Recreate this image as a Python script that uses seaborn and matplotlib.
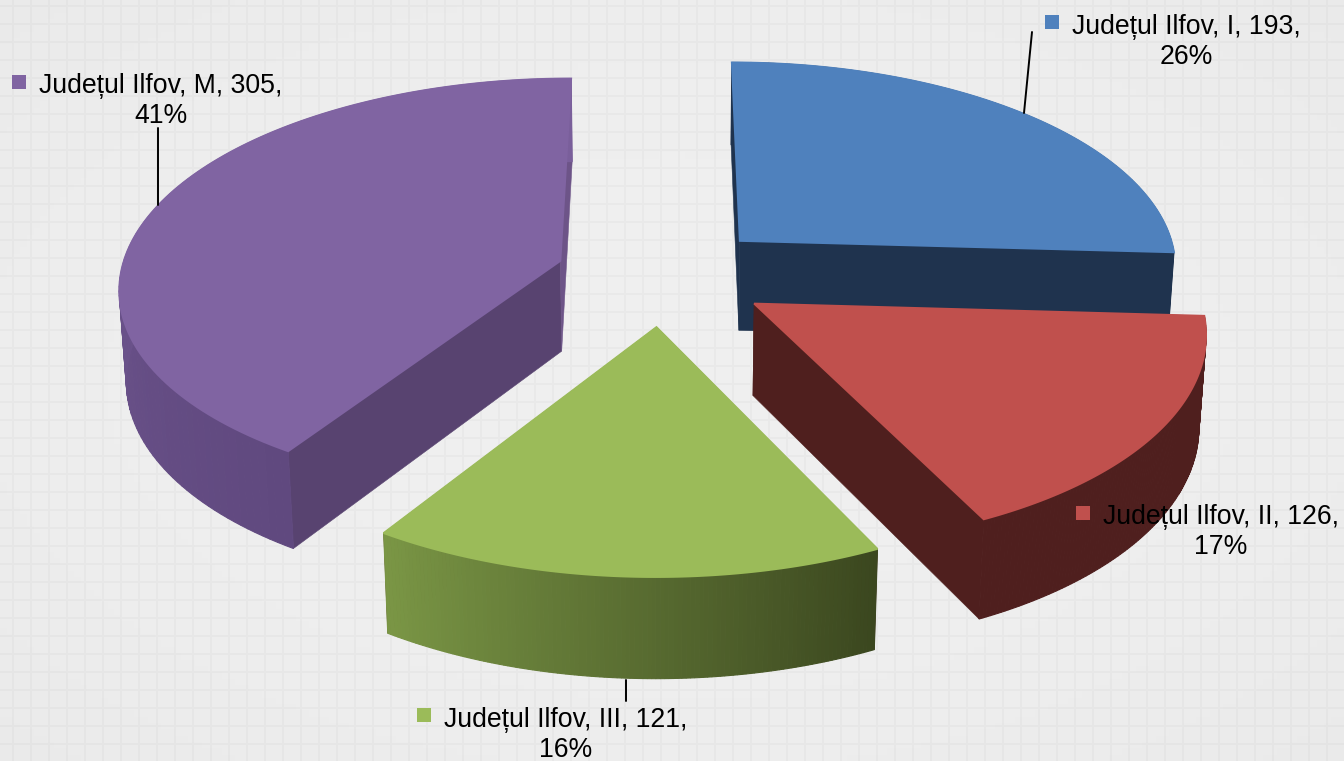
import numpy as np
import matplotlib
matplotlib.use('Agg')
import matplotlib.pyplot as plt
import seaborn as sns

# Data
regions = ['Județul Ilfov, I', 'Județul Ilfov, II', 'Județul Ilfov, III', 'Județul Ilfov, M']
values = [193, 126, 121, 305]
percents = [26, 17, 16, 41]

# top face, cut faces (start, end of the slice) and the rim gradient for every slice
top_colors = ['#4f81bd', '#c0504d', '#9bbb59', '#8064a2']
cut_start = ['#1f334e', '#4f1f1e', '#4f1f1e', '#584370']
cut_end = ['#1f334e', '#4f1f1e', '#4f1f1e', '#6d5488']
rim_colors = [('#1f334e', '#1f334e'), ('#4f1f1e', '#4f1f1e'),
              ('#3b471f', '#7a9645'), ('#60497f', '#7a5f9b')]

sns.set_theme(style='whitegrid', rc={'axes.facecolor': '#efefef', 'figure.facecolor': '#efefef',
                                     'grid.color': '#e9e9e9', 'grid.linewidth': 1.4})
plt.rcParams['font.family'] = ['Liberation Sans', 'DejaVu Sans']

fig = plt.figure(figsize=(13.44, 7.61), dpi=100)
ax = fig.add_axes([0, 0, 1, 1])
ax.set_xticks(np.arange(13, 1344, 18))
ax.set_yticks(np.arange(6, 761, 18))
ax.tick_params(labelbottom=False, labelleft=False, length=0)
ax.set_axisbelow(True)
for s in ax.spines.values():
    s.set_visible(False)

# faint darkening towards the edges of the slide
gx, gy = np.meshgrid(np.linspace(-1, 1, 200), np.linspace(-1, 1, 120))
shade = np.zeros(gx.shape + (4,))
shade[..., 3] = np.clip((gx ** 2 + gy ** 2) / 2, 0, 1) * 0.022
ax.imshow(shade, extent=(0, 1344, 761, 0), aspect='auto', zorder=1.5)

# simple perspective camera for the 3d pie
CX, CY = 663, 275
A, B, D = 440, 207, 92
P, Q = 0.118, 0.013
EXPLODE = 0.245


def project(x, y, z):
    w = 1 + P * y + Q * z
    return CX + A * x / w, CY + (-B * y + D * z) / w


def face(ax, xs, ys, zs, color, z, lw=0.4):
    sx, sy = project(np.asarray(xs, float), np.asarray(ys, float), np.asarray(zs, float))
    ax.fill(sx, sy, color=color, lw=lw, zorder=z)


# Angles run clockwise from 12 o'clock
fracs = np.array(values) / sum(values)
edges = np.concatenate([[0], np.cumsum(fracs)]) * 2 * np.pi
draw_order = [0, 3, 2, 1]

for n, i in enumerate(draw_order):
    a0, a1 = edges[i], edges[i + 1]
    mid = (a0 + a1) / 2
    ox, oy = EXPLODE * np.sin(mid), EXPLODE * np.cos(mid)
    th = np.linspace(a0, a1, 121)
    rx, ry = ox + np.sin(th), oy + np.cos(th)
    z = 2 + n * 3

    # the two cut faces
    face(ax, [ox, rx[0], rx[0], ox], [oy, ry[0], ry[0], oy], [0, 0, 1, 1], cut_start[i], z)
    face(ax, [ox, rx[-1], rx[-1], ox], [oy, ry[-1], ry[-1], oy], [0, 0, 1, 1], cut_end[i], z)

    # outer rim, split into small strips for the gradient
    shades = sns.blend_palette(rim_colors[i], len(th) - 1)
    for k in range(len(th) - 1):
        face(ax, [rx[k], rx[k + 1], rx[k + 1], rx[k]], [ry[k], ry[k + 1], ry[k + 1], ry[k]],
             [0, 0, 1, 1], shades[k], z + 1, lw=0.8)

    # top of the slice
    face(ax, np.r_[ox, rx], np.r_[oy, ry], np.zeros(len(th) + 1), top_colors[i], z + 2, lw=1.4)

# leader lines
ax.plot([1024, 1032], [113, 32], color='black', lw=1.4, zorder=20)
ax.plot([158, 158], [205, 128], color='black', lw=1.4, zorder=20)
ax.plot([626, 626], [680, 701], color='black', lw=1.4, zorder=20)

# labels with their colour keys
label_pos = [(1186, 42), (1221, 532), (566, 735), (161, 101)]
key_pos = [(1052, 22), (1083, 513), (424, 715), (19, 82)]
for i in range(4):
    ax.text(label_pos[i][0], label_pos[i][1], f'{regions[i]}, {values[i]},\n{percents[i]}%',
            ha='center', va='center', fontsize=19.2, color='black', linespacing=1.2, zorder=21)
    ax.add_patch(plt.Rectangle((key_pos[i][0] - 7, key_pos[i][1] - 7), 14, 14,
                               color=top_colors[i], lw=0, zorder=21))

ax.set_xlim(0, 1344)
ax.set_ylim(761, 0)
fig.savefig('out.png', dpi=100)
